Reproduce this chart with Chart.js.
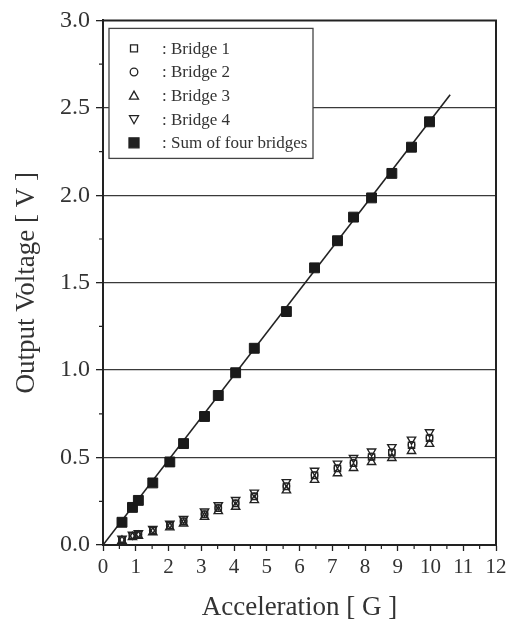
<!DOCTYPE html>
<html>
<head>
<meta charset="utf-8">
<script src="https://cdn.jsdelivr.net/npm/chart.js@4"></script>
<style>
  html, body { margin: 0; padding: 0; background: #fff; }
  #wrap { width: 508px; height: 630px; }
</style>
</head>
<body>
<div id="wrap"><canvas id="grafico" width="508" height="630"></canvas></div>
<script>
// ===== data =====
const accel = [0.58, 0.90, 1.08, 1.52, 2.04, 2.46, 3.10, 3.52, 4.05, 4.62, 5.60, 6.46, 7.16, 7.65, 8.20, 8.82, 9.42, 9.97];
const sumOfFour = [0.13, 0.215, 0.255, 0.355, 0.475, 0.58, 0.735, 0.855, 0.985, 1.125, 1.335, 1.585, 1.74, 1.875, 1.985, 2.125, 2.275, 2.42];
const bridge1 = [0.030, 0.052, 0.060, 0.082, 0.110, 0.135, 0.175, 0.210, 0.237, 0.277, 0.335, 0.398, 0.437, 0.467, 0.503, 0.528, 0.570, 0.610];
const bridge2 = [0.031, 0.053, 0.061, 0.083, 0.112, 0.137, 0.177, 0.212, 0.239, 0.279, 0.337, 0.400, 0.440, 0.470, 0.506, 0.531, 0.573, 0.614];
const bridge3 = [0.024, 0.045, 0.052, 0.072, 0.100, 0.122, 0.160, 0.193, 0.218, 0.256, 0.312, 0.372, 0.410, 0.440, 0.474, 0.497, 0.537, 0.578];
const bridge4 = [0.036, 0.060, 0.068, 0.092, 0.122, 0.150, 0.192, 0.228, 0.258, 0.300, 0.360, 0.425, 0.466, 0.498, 0.535, 0.560, 0.603, 0.645];
const fitAccel = [0, 10.6];
const fitVoltage = [0, 2.575];
const seriesNames = ["Bridge 1", "Bridge 2", "Bridge 3", "Bridge 4", "Sum of four bridges"];
const xMinorTicks = [0.5, 1.5, 2.5, 3.5, 4.5, 5.5, 6.5, 7.5, 8.5, 9.5, 10.5, 11.5];
const yMinorTicks = [0.25, 0.75, 1.25, 1.75, 2.25, 2.75];

const INK = "#222";
const TEXT = "#333";
const SERIF = "'Liberation Serif', 'Times New Roman', serif";

const pts = arr => accel.map((x, i) => ({ x: x, y: arr[i] }));

// simple symbol drawer for the legend box
function symbol(ctx, kind, x, y) {
  ctx.save();
  ctx.strokeStyle = INK;
  ctx.fillStyle = "#fff";
  ctx.lineWidth = 1.3;
  ctx.beginPath();
  if (kind === "square") {
    ctx.rect(x - 3.5, y - 3.5, 7, 7);
  } else if (kind === "circle") {
    ctx.arc(x, y, 3.8, 0, Math.PI * 2);
  } else if (kind === "up") {
    ctx.moveTo(x, y - 4.5); ctx.lineTo(x + 4.5, y + 3.5); ctx.lineTo(x - 4.5, y + 3.5); ctx.closePath();
  } else if (kind === "down") {
    ctx.moveTo(x, y + 4.5); ctx.lineTo(x + 4.5, y - 3.5); ctx.lineTo(x - 4.5, y - 3.5); ctx.closePath();
  } else {
    ctx.fillStyle = INK;
    ctx.rect(x - 5, y - 5, 10, 10);
  }
  ctx.fill();
  ctx.stroke();
  ctx.restore();
}

const extras = {
  id: "extras",
  afterDraw(chart) {
    const { ctx, chartArea: a, scales: { x, y } } = chart;
    ctx.save();
    // frame top and right
    ctx.strokeStyle = INK;
    ctx.lineWidth = 2;
    ctx.beginPath();
    ctx.moveTo(a.left, a.top); ctx.lineTo(a.right, a.top); ctx.lineTo(a.right, a.bottom);
    ctx.stroke();
    // minor ticks
    ctx.lineWidth = 1.2;
    ctx.beginPath();
    xMinorTicks.forEach(v => {
      const px = x.getPixelForValue(v);
      ctx.moveTo(px, a.bottom); ctx.lineTo(px, a.bottom + 4);
    });
    yMinorTicks.forEach(v => {
      const py = y.getPixelForValue(v);
      ctx.moveTo(a.left, py); ctx.lineTo(a.left - 4, py);
    });
    ctx.stroke();
    // legend box
    const bx = a.left + 6, by = a.top + 8, bw = 204, bh = 130;
    ctx.fillStyle = "#fff";
    ctx.fillRect(bx, by, bw, bh);
    ctx.strokeStyle = "#444";
    ctx.lineWidth = 1.3;
    ctx.strokeRect(bx, by, bw, bh);
    const kinds = ["square", "circle", "up", "down", "filled"];
    ctx.font = "17px " + SERIF;
    ctx.fillStyle = TEXT;
    ctx.textBaseline = "middle";
    seriesNames.forEach((name, i) => {
      const ry = by + 20 + i * 23.6;
      symbol(ctx, kinds[i], bx + 25, ry);
      ctx.fillStyle = TEXT;
      ctx.fillText(": " + name, bx + 53, ry + 1);
    });
    ctx.restore();
  }
};

const ctx = document.getElementById("grafico").getContext("2d");
new Chart(ctx, {
  type: "scatter",
  data: {
    datasets: [
      { label: seriesNames[4], data: pts(sumOfFour), pointStyle: "rect", pointRadius: 7,
        backgroundColor: "#1a1a1a", borderColor: "#1a1a1a", borderWidth: 1, order: 1 },
      { label: seriesNames[0], data: pts(bridge1), pointStyle: "rect", pointRadius: 4.5,
        backgroundColor: "rgba(255,255,255,0)", borderColor: INK, borderWidth: 1.2, order: 2 },
      { label: seriesNames[1], data: pts(bridge2), pointStyle: "circle", pointRadius: 3.3,
        backgroundColor: "rgba(255,255,255,0)", borderColor: INK, borderWidth: 1.2, order: 3 },
      { label: seriesNames[2], data: pts(bridge3), pointStyle: "triangle", pointRadius: 4.8,
        backgroundColor: "rgba(255,255,255,0)", borderColor: INK, borderWidth: 1.4, order: 4 },
      { label: seriesNames[3], data: pts(bridge4), pointStyle: "triangle", rotation: 180, pointRadius: 4.8,
        backgroundColor: "rgba(255,255,255,0)", borderColor: INK, borderWidth: 1.4, order: 5 },
      { label: "fit", data: fitAccel.map((v, i) => ({ x: v, y: fitVoltage[i] })), showLine: true,
        pointRadius: 0, borderColor: INK, borderWidth: 1.6, order: 10 }
    ]
  },
  options: {
    responsive: false,
    animation: false,
    layout: { padding: { top: 15, right: 12, left: 0, bottom: 0 } },
    plugins: { legend: { display: false }, tooltip: { enabled: false } },
    scales: {
      x: {
        type: "linear", min: 0, max: 12,
        afterFit: s => { s.height = 85; s.paddingRight = 0; s.paddingLeft = 0; },
        ticks: { stepSize: 1, color: TEXT, padding: 4, font: { family: SERIF, size: 21 } },
        grid: { drawOnChartArea: false, tickLength: 6, tickColor: INK, tickWidth: 1.3 },
        border: { color: INK, width: 2 },
        title: { display: true, text: "Acceleration [ G ]", color: TEXT,
          font: { family: SERIF, size: 27 }, padding: { bottom: 6 } }
      },
      y: {
        type: "linear", min: 0, max: 3,
        afterFit: s => { s.width = 103; },
        ticks: { stepSize: 0.5, color: TEXT, padding: 6, font: { family: SERIF, size: 24 },
          callback: v => Number(v).toFixed(1) },
        grid: {
          color: c => (c.tick && c.tick.value > 0 && c.tick.value < 3) ? "#3a3a3a" : "rgba(0,0,0,0)",
          lineWidth: 1.3, tickLength: 7, tickColor: INK, tickWidth: 1.3
        },
        border: { color: INK, width: 2 },
        title: { display: true, text: "Output Voltage [ V ]", color: TEXT,
          font: { family: SERIF, size: 27 }, padding: { top: 11 } }
      }
    }
  },
  plugins: [extras]
});
</script>
</body>
</html>
